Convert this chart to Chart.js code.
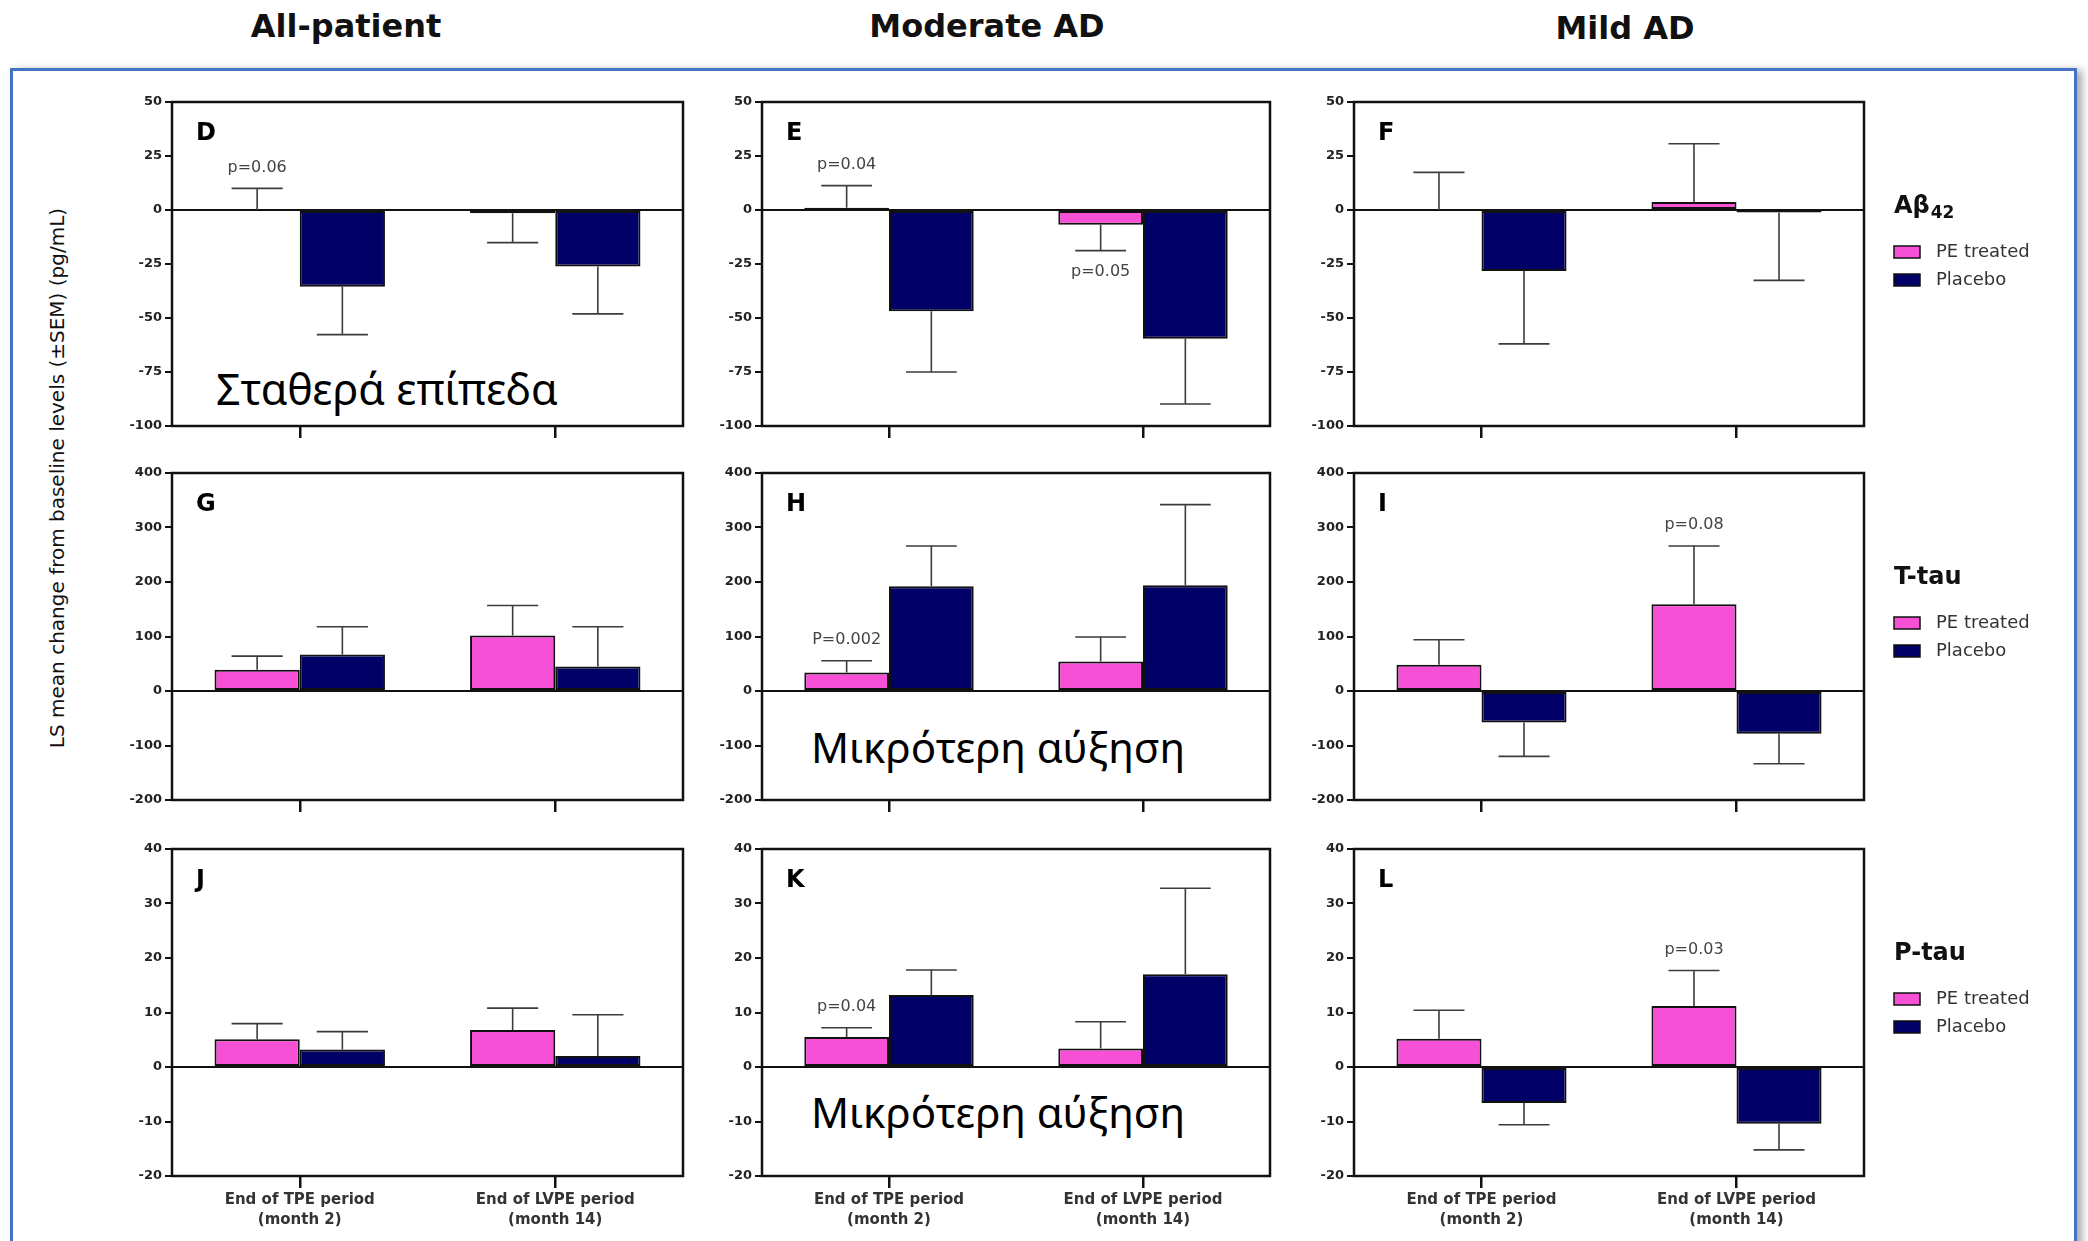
<!DOCTYPE html>
<html lang="el">
<head>
<meta charset="utf-8">
<title>CSF biomarkers: LS mean change from baseline</title>
<script src="https://cdn.jsdelivr.net/npm/chart.js@4.4.1/dist/chart.umd.min.js"></script>
<style>
  html, body { margin: 0; padding: 0; background: #fff; }
  body { width: 2088px; height: 1241px; position: relative; overflow: hidden; }
  .frame { position: absolute; left: 10px; top: 68px; width: 2061px; height: 1300px;
           border: 3px solid #4472c4; box-shadow: 5px 2px 8px rgba(0,0,0,.35); }
  .cohort { position: absolute; transform: translateX(-50%); font: bold 32px "DejaVu Sans";
            line-height: 1; color: #111; white-space: nowrap; }
  .ytitle { position: absolute; left: 57px; top: 478px; transform: translate(-50%, -50%) rotate(-90deg);
            font: 20px "DejaVu Sans"; color: #111; white-space: nowrap; }
  canvas { position: absolute; }
  .caption { position: absolute; font: 43px "Noto Sans"; line-height: 1; color: #000; white-space: nowrap; }
  .caption.narrow { font-size: 42px; }
</style>
</head>
<body>
<div class="frame"></div>
<div class="ytitle">LS mean change from baseline levels (±SEM) (pg/mL)</div>
<div class="caption" style="left:216px; top:367px;">Σταθερά επίπεδα</div>
<div class="caption narrow" style="left:811px; top:726px;">Μικρότερη αύξηση</div>
<div class="caption narrow" style="left:811px; top:1091px;">Μικρότερη αύξηση</div>

<script>
// ---- categories, series and labels ----
const periods = [['End of TPE period', '(month 2)'], ['End of LVPE period', '(month 14)']];
const cohorts = ['All-patient', 'Moderate AD', 'Mild AD'];
const biomarkers = ['Aβ42', 'T-tau', 'P-tau'];
const seriesNames = ['PE treated', 'Placebo'];
const panelLetters = ['D', 'E', 'F', 'G', 'H', 'I', 'J', 'K', 'L'];

// y-axis range for each biomarker row (pg/mL)
const yMin = [-100, -200, -20];
const yMax = [50, 400, 40];
const yStep = [25, 100, 10];

// LS mean change from baseline and SEM, [end of TPE, end of LVPE]
// Aβ42
const peD = [0, -1.5],      peSemD = [10.0, 13.6],  pboD = [-35.5, -26.1], pboSemD = [22.2, 22.0];
const peE = [1.0, -6.8],    peSemE = [10.3, 12.0],  pboE = [-46.9, -59.6], pboSemE = [28.1, 30.2];
const peF = [0, 3.7],       peSemF = [17.4, 27.0],  pboF = [-28.2, -1.2],  pboSemF = [33.8, 31.4];
// T-tau
const peG = [39, 102],      peSemG = [25, 55],      pboG = [67, 45],       pboSemG = [51, 73];
const peH = [34, 54],       peSemH = [21.5, 45],    pboH = [192, 194],     pboSemH = [74, 148];
const peI = [48, 159],      peSemI = [46, 107],     pboI = [-57.6, -78.4], pboSemI = [62.4, 55.1];
// P-tau
const peJ = [5.1, 6.8],     peSemJ = [2.85, 4.0],   pboJ = [3.2, 2.0],     pboSemJ = [3.3, 7.6];
const peK = [5.5, 3.4],     peSemK = [1.7, 4.9],    pboK = [13.2, 17.0],   pboSemK = [4.6, 15.8];
const peL = [5.2, 11.2],    peSemL = [5.2, 6.5],    pboL = [-6.6, -10.4],  pboSemL = [4.0, 4.8];

// significance notes: [text, series index, period index]
const notesD = [['p=0.06', 0, 0]];
const notesE = [['p=0.04', 0, 0], ['p=0.05', 0, 1]];
const notesH = [['P=0.002', 0, 0]];
const notesI = [['p=0.08', 0, 1]];
const notesK = [['p=0.04', 0, 0]];
const notesL = [['p=0.03', 0, 1]];

const peVals   = [peD, peE, peF, peG, peH, peI, peJ, peK, peL];
const peSems   = [peSemD, peSemE, peSemF, peSemG, peSemH, peSemI, peSemJ, peSemK, peSemL];
const pboVals  = [pboD, pboE, pboF, pboG, pboH, pboI, pboJ, pboK, pboL];
const pboSems  = [pboSemD, pboSemE, pboSemF, pboSemG, pboSemH, pboSemI, pboSemJ, pboSemK, pboSemL];
const notesAll = [notesD, notesE, [], [], notesH, notesI, [], notesK, notesL];

// ---- layout / style ----
const PINK = '#f550d6', NAVY = '#000066', INK = '#111';
const plotCols = [[172, 683], [762, 1270], [1354, 1864]];
const plotRows = [[102, 426], [473, 800], [849, 1176]];
const cohortX = [346, 987, 1625], cohortTop = [10, 10, 12];
const Y_AXIS_W = 62, PAD_TOP = 16;

Chart.defaults.font.family = '"DejaVu Sans"';

cohorts.forEach((name, i) => {
  const d = document.createElement('div');
  d.className = 'cohort';
  d.textContent = name;
  d.style.left = cohortX[i] + 'px';
  d.style.top = cohortTop[i] + 'px';
  document.body.appendChild(d);
});

// zero line, SEM whiskers, panel box, panel letter, p-value notes, side legend
const panelDecor = {
  id: 'panelDecor',
  beforeDatasetsDraw(chart) {
    const { ctx, chartArea: a, scales: { y } } = chart;
    const y0 = y.getPixelForValue(0);
    ctx.save();
    ctx.strokeStyle = INK; ctx.lineWidth = 2;
    ctx.beginPath(); ctx.moveTo(a.left, y0); ctx.lineTo(a.right, y0); ctx.stroke();
    ctx.restore();
  },
  afterDatasetsDraw(chart, args, opts) {
    const { ctx, chartArea: a, scales: { y } } = chart;
    ctx.save();
    const tips = [];
    ctx.strokeStyle = '#3c3c3c'; ctx.lineWidth = 1.6;
    chart.data.datasets.forEach((ds, i) => {
      const meta = chart.getDatasetMeta(i);
      tips[i] = [];
      meta.data.forEach((bar, j) => {
        const v = ds.data[j];
        const dir = v < 0 ? -1 : 1;
        const yBar = y.getPixelForValue(v);
        const yEnd = y.getPixelForValue(v + dir * ds.sem[j]);
        const half = bar.width * 0.3;
        ctx.beginPath();
        ctx.moveTo(bar.x, yBar); ctx.lineTo(bar.x, yEnd);
        ctx.moveTo(bar.x - half, yEnd); ctx.lineTo(bar.x + half, yEnd);
        ctx.stroke();
        tips[i][j] = { x: bar.x, y: yEnd, dir };
      });
    });

    ctx.strokeStyle = INK; ctx.lineWidth = 2.5;
    ctx.strokeRect(a.left, a.top, a.right - a.left, a.bottom - a.top);

    ctx.fillStyle = '#000';
    ctx.font = 'bold 24px "DejaVu Sans"';
    ctx.textAlign = 'left'; ctx.textBaseline = 'alphabetic';
    ctx.fillText(opts.letter, a.left + 24, a.top + 38);

    ctx.fillStyle = '#444';
    ctx.font = '16px "DejaVu Sans"';
    ctx.textAlign = 'center'; ctx.textBaseline = 'middle';
    (opts.notes || []).forEach(([text, s, p]) => {
      const t = tips[s][p];
      ctx.fillText(text, t.x, t.y - t.dir * 21);
    });

    if (opts.legendTitle) {
      const x0 = a.right + 30;
      const m = opts.legendTitle.match(/^(.*?)(\d+)$/);
      const main = m ? m[1] : opts.legendTitle;
      const base = a.top + 111;
      ctx.fillStyle = INK; ctx.textAlign = 'left'; ctx.textBaseline = 'alphabetic';
      ctx.font = 'bold 24px "DejaVu Sans"';
      ctx.fillText(main, x0, base);
      if (m) {
        const w = ctx.measureText(main).width;
        ctx.font = 'bold 17px "DejaVu Sans"';
        ctx.fillText(m[2], x0 + w + 1, base + 5);
      }
      chart.data.datasets.forEach((ds, i) => {
        const yc = a.top + 150 + i * 28;
        ctx.fillStyle = ds.backgroundColor;
        ctx.fillRect(x0, yc - 6, 26, 12);
        ctx.strokeStyle = INK; ctx.lineWidth = 1.5;
        ctx.strokeRect(x0, yc - 6, 26, 12);
        ctx.fillStyle = '#333'; ctx.font = '18px "DejaVu Sans"';
        ctx.textBaseline = 'middle';
        ctx.fillText(ds.label, x0 + 42, yc);
        ctx.textBaseline = 'alphabetic';
      });
    }
    ctx.restore();
  }
};

for (let r = 0; r < 3; r++) {
  for (let c = 0; c < 3; c++) {
    const k = r * 3 + c;
    const [L, R] = plotCols[c];
    const [T, B] = plotRows[r];
    const lastRow = r === 2;
    const padRight = c === 2 ? 200 : 4;
    const xH = lastRow ? 60 : 20;

    const canvas = document.createElement('canvas');
    canvas.width = Y_AXIS_W + (R - L) + padRight;
    canvas.height = PAD_TOP + (B - T) + xH;
    canvas.style.left = (L - Y_AXIS_W) + 'px';
    canvas.style.top = (T - PAD_TOP) + 'px';
    document.body.appendChild(canvas);

    const chart = new Chart(canvas, {
      type: 'bar',
      data: {
        labels: periods,
        datasets: [
          { label: seriesNames[0], data: peVals[k], sem: peSems[k], backgroundColor: PINK },
          { label: seriesNames[1], data: pboVals[k], sem: pboSems[k], backgroundColor: NAVY }
        ]
      },
      options: {
        responsive: false,
        maintainAspectRatio: false,
        animation: false,
        events: [],
        layout: { padding: { top: PAD_TOP, right: padRight, left: 0, bottom: 0 } },
        datasets: {
          bar: { categoryPercentage: 0.667, barPercentage: 1.0,
                 borderColor: INK, borderWidth: 2, borderSkipped: false }
        },
        plugins: {
          legend: { display: false },
          tooltip: { enabled: false },
          panelDecor: {
            letter: panelLetters[k],
            notes: notesAll[k],
            legendTitle: c === 2 ? biomarkers[r] : null
          }
        },
        scales: {
          x: {
            offset: true,
            border: { display: false },
            grid: { offset: false, drawOnChartArea: false, drawTicks: true,
                    tickLength: 12, color: INK, lineWidth: 2.5 },
            ticks: { display: lastRow, autoSkip: false, maxRotation: 0, padding: 2,
                     color: '#333', font: { size: 15, weight: 'bold', lineHeight: 1.33 } },
            afterFit(s) { s.height = xH; }
          },
          y: {
            min: yMin[r], max: yMax[r],
            border: { display: false },
            grid: { drawOnChartArea: false, drawTicks: true, tickLength: 7, color: INK, lineWidth: 2 },
            ticks: { stepSize: yStep[r], padding: 3, color: '#222',
                     font: { size: 13, weight: 'bold' } },
            afterFit(s) { s.width = Y_AXIS_W; }
          }
        }
      },
      plugins: [panelDecor]
    });

    // pin the plot area to its slot
    const a = chart.chartArea;
    canvas.style.left = (L - a.left) + 'px';
    canvas.style.top = (T - a.top) + 'px';
  }
}
</script>
</body>
</html>
